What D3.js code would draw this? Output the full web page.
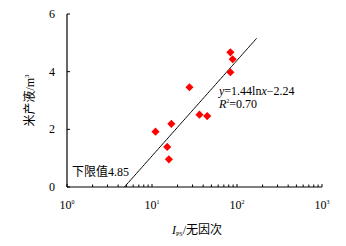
<!DOCTYPE html>
<html><head><meta charset="utf-8">
<script src="https://cdn.jsdelivr.net/npm/d3@7"></script>
<style>body{margin:0;background:#fff}text{font-family:"Liberation Serif","Noto Sans CJK SC",serif}</style>
</head><body><div id="chart"></div>
<script>
// data
const ipsValues = [83.6, 88.9, 83.6, 27.6, 36.2, 44.6, 16.9, 11.0, 15.1, 15.8];
const liquidValues = [4.67, 4.43, 3.98, 3.46, 2.51, 2.46, 2.19, 1.92, 1.39, 0.96];
const fitA = 1.44, fitB = -2.24;
const fitRange = [4.74, 170];
const xTickExps = [0, 1, 2, 3];
const yTicks = [0, 2, 4, 6];

const width = 346, height = 246;
const margin = { top: 14, right: 24, bottom: 59, left: 67 };

const svg = d3.select("#chart").append("svg").attr("width", width).attr("height", height);

const x = d3.scaleLog().domain([1, 1000]).range([margin.left, width - margin.right]);
const y = d3.scaleLinear().domain([0, 6]).range([height - margin.bottom, margin.top]);

// y axis
svg.append("line").attr("x1", x(1)).attr("x2", x(1)).attr("y1", y(6)).attr("y2", y(0)).attr("stroke", "#000").attr("stroke-width", 1.2);
yTicks.forEach(t => {
  svg.append("line").attr("x1", x(1)).attr("x2", x(1) + 3).attr("y1", y(t)).attr("y2", y(t)).attr("stroke", "#000");
  svg.append("text").attr("x", x(1) - 12).attr("y", y(t) + 4).attr("text-anchor", "end").style("font-size", "12px").text(t);
});

// x axis (log, minor ticks inside)
svg.append("line").attr("x1", x(1)).attr("x2", x(1000)).attr("y1", y(0)).attr("y2", y(0)).attr("stroke", "#000").attr("stroke-width", 1.2);
x.ticks().forEach(t => {
  const major = xTickExps.some(e => Math.abs(t - Math.pow(10, e)) < 1e-9);
  svg.append("line").attr("x1", x(t)).attr("x2", x(t)).attr("y1", y(0)).attr("y2", y(0) - (major ? 3 : 2.5)).attr("stroke", "#000");
});
xTickExps.forEach(e => {
  const tx = svg.append("text").attr("x", x(Math.pow(10, e))).attr("y", y(0) + 22).attr("text-anchor", "middle").style("font-size", "12px");
  tx.append("tspan").text("10");
  tx.append("tspan").attr("dy", -5).style("font-size", "6px").text(e);
});

// fit line
const fitPts = d3.range(0, 101).map(i => {
  const lx = Math.log10(fitRange[0]) + (Math.log10(fitRange[1]) - Math.log10(fitRange[0])) * i / 100;
  return Math.pow(10, lx);
});
svg.append("path").datum(fitPts)
  .attr("d", d3.line().x(d => x(d)).y(d => y(fitA * Math.log(d) + fitB)))
  .attr("fill", "none").attr("stroke", "#000").attr("stroke-width", 1);

// points
svg.selectAll(".pt").data(ipsValues).join("path").attr("class", "pt")
  .attr("transform", (d, i) => `translate(${x(d)},${y(liquidValues[i])})`)
  .attr("d", d3.symbol(d3.symbolDiamond2, 42)).attr("fill", "#f00");

// annotations
const eq = svg.append("text").attr("x", 219).attr("y", 95).style("font-size", "12px");
eq.append("tspan").style("font-style", "italic").text("y");
eq.append("tspan").text("=1.44ln");
eq.append("tspan").style("font-style", "italic").text("x");
eq.append("tspan").text("\u22122.24");
const r2 = svg.append("text").attr("x", 219).attr("y", 108).style("font-size", "12px");
r2.append("tspan").style("font-style", "italic").text("R");
r2.append("tspan").attr("dy", -5).style("font-size", "6px").text("2");
r2.append("tspan").attr("dy", 5).text("=0.70");

svg.append("text").attr("x", 72).attr("y", 176).style("font-size", "12px").text("下限值4.85");

// axis titles
const yl = svg.append("text")
  .attr("transform", `translate(34,${(y(0) + y(6)) / 2}) rotate(-90)`)
  .attr("text-anchor", "middle").style("font-size", "12px");
yl.append("tspan").text("米产液/m");
yl.append("tspan").attr("dy", -5).style("font-size", "7px").text("3");

const xl = svg.append("text").attr("x", 197).attr("y", 234).attr("text-anchor", "middle").style("font-size", "12px");
xl.append("tspan").style("font-style", "italic").text("I");
xl.append("tspan").attr("dy", 2).style("font-size", "6px").text("PS");
xl.append("tspan").attr("dy", -2).text("/无因次");
</script></body></html>
